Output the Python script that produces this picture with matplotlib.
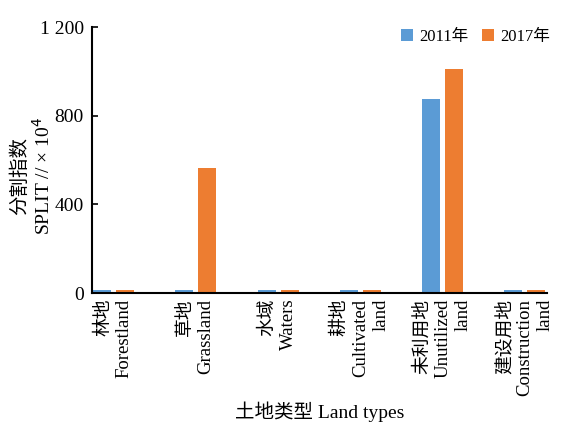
import matplotlib
matplotlib.use("Agg")
import matplotlib.pyplot as plt
import numpy as np

# data
categories = ["林地\nForestland", "草地\nGrassland", "水域\nWaters",
              "耕地\nCultivated\nland", "未利用地\nUnutilized\nland",
              "建设用地\nConstruction\nland"]
split_2011 = [12, 12, 12, 12, 875, 14]
split_2017 = [12, 564, 12, 12, 1010, 12]
years = ["2011年", "2017年"]
yticks = [0, 400, 800, 1200]
ytick_labels = ["0", "400", "800", "1 200"]

plt.rcParams['font.family'] = ['Liberation Serif', 'Noto Sans CJK SC']
plt.rcParams['font.size'] = 13

fig = plt.figure(figsize=(5.87, 4.23), dpi=100)
ax = fig.add_axes([0.157, 0.307, 0.775, 0.629])

x = np.arange(len(categories))
w = 0.22
off = 0.14
ax.bar(x - off, split_2011, w, color='#5b9bd5', label=years[0])
ax.bar(x + off, split_2017, w, color='#ed7d31', label=years[1])

ax.set_xlim(-0.26, 5.27)
ax.set_ylim(0, 1200)
ax.set_yticks(yticks)
ax.set_yticklabels(ytick_labels, fontsize=14)
ax.tick_params(axis='y', direction='in', length=4, width=1.2, pad=6)
ax.set_xticks(x)
ax.set_xticklabels(categories, rotation=90, ha='center', va='top',
                   multialignment='right', fontsize=13.5, linespacing=1.25)
ax.tick_params(axis='x', length=0, pad=4)

for s in ['top', 'right']:
    ax.spines[s].set_visible(False)
for s in ['left', 'bottom']:
    ax.spines[s].set_linewidth(1.5)

ax.set_ylabel("分割指数\nSPLIT // × 10$^4$", fontsize=14, linespacing=1.15)
ax.yaxis.set_label_coords(-0.085, 0.44)
ax.set_xlabel("土地类型 Land types", fontsize=14, labelpad=4)

ax.legend(loc='upper right', bbox_to_anchor=(1.04, 1.05), ncol=2, frameon=False,
          handlelength=0.7, handleheight=0.7, handletextpad=0.4,
          columnspacing=0.8, fontsize=12)

fig.savefig("out.png", dpi=100, facecolor='white')
